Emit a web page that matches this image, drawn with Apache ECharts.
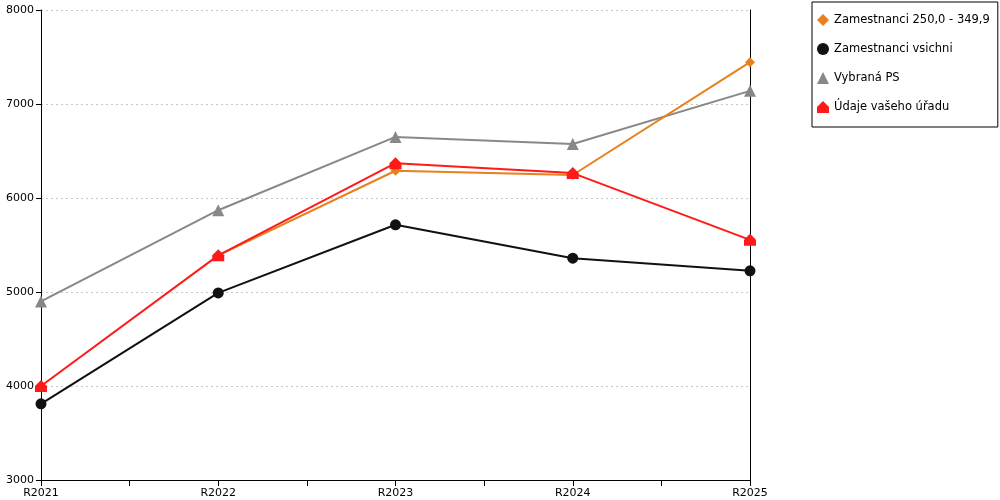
<!DOCTYPE html>
<html>
<head>
<meta charset="utf-8">
<script src="https://cdn.jsdelivr.net/npm/echarts@6/dist/echarts.min.js"></script>
<style>
html, body { margin: 0; padding: 0; background: #fff; }
#chart { width: 1000px; height: 500px; }
</style>
</head>
<body>
<div id="chart"></div>
<script>
var years = ['R2021', 'R2022', 'R2023', 'R2024', 'R2025'];
var zam250 = [null, 5390, 6290, 6245, 7445];
var zamAll = [3810, 4990, 5715, 5360, 5225];
var vybranaPS = [4900, 5870, 6650, 6575, 7140];
var vasUrad = [4000, 5390, 6370, 6265, 5555];

var housePath = 'path://M0,5 L5,0 L10,5 L10,10 L0,10 Z';

function pairs(vals)
{
    return vals.map(function(v, i){ return [i, v]; });
}

function mk(name, vals, color, symbol, size)
{
    return {
        name: name,
        type: 'line',
        data: pairs(vals),
        symbol: symbol,
        symbolSize: size,
        showSymbol: true,
        connectNulls: false,
        itemStyle: { color: color },
        lineStyle: { color: color, width: 2 },
        emphasis: { disabled: true },
        animation: false
    };
}

var myChart = echarts.init(document.getElementById('chart'));
var option = {
    backgroundColor: '#fff',
    animation: false,
    textStyle: { fontFamily: 'DejaVu Sans' },
    grid: { left: 41, right: 250, top: 10, bottom: 20 },
    legend: {
        orient: 'vertical',
        left: 812,
        top: 2,
        padding: [12, 8, 14, 5],
        itemGap: 17,
        itemWidth: 12,
        itemHeight: 12,
        borderColor: '#000',
        borderWidth: 1,
        textStyle: { fontSize: 11.5, color: '#000', fontFamily: 'DejaVu Sans' },
        data: [
            { name: 'Zamestnanci 250,0 - 349,9', icon: 'diamond' },
            { name: 'Zamestnanci vsichni', icon: 'circle' },
            { name: 'Vybraná PS', icon: 'triangle' },
            { name: 'Údaje vašeho úřadu', icon: housePath }
        ]
    },
    xAxis: {
        type: 'value',
        min: 0,
        max: 4,
        interval: 0.5,
        axisLine: { show: true, lineStyle: { color: '#000', width: 1 } },
        axisTick: { show: true, length: 6, lineStyle: { color: '#000' } },
        splitLine: { show: false },
        axisLabel: {
            color: '#000',
            fontSize: 11,
            margin: 8,
            formatter: function(v){
                return (v % 1 === 0) ? years[v] : '';
            }
        }
    },
    yAxis: [{
        type: 'value',
        min: 3000,
        max: 8000,
        interval: 1000,
        axisLine: { show: true, lineStyle: { color: '#000', width: 1 } },
        axisTick: { show: true, length: 5, lineStyle: { color: '#000' } },
        splitLine: { show: true, lineStyle: { color: '#c8c8c8', type: [2, 3] } },
        axisLabel: { color: '#000', fontSize: 11, margin: 7, formatter: function(v){ return String(v); } }
    }, {
        type: 'value',
        position: 'right',
        min: 3000,
        max: 8000,
        interval: 1000,
        axisLine: { show: true, lineStyle: { color: '#000', width: 1 } },
        axisTick: { show: false },
        axisLabel: { show: false },
        splitLine: { show: false }
    }],
    series: [
        mk('Vybraná PS', vybranaPS, '#888888', 'triangle', 12),
        mk('Zamestnanci vsichni', zamAll, '#111111', 'circle', 11),
        mk('Zamestnanci 250,0 - 349,9', zam250, '#e8801e', 'diamond', 10),
        mk('Údaje vašeho úřadu', vasUrad, '#ff1a1a', housePath, 12)
    ]
};
myChart.setOption(option);
</script>
</body>
</html>
